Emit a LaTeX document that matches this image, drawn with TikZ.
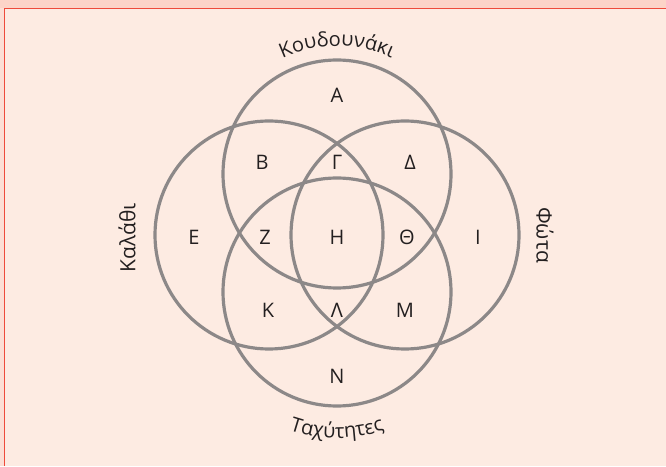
\documentclass[tikz,border=0pt]{standalone}
\usepackage{fontspec}
\setmainfont{Open Sans}
\usetikzlibrary{decorations.text}
\definecolor{vennpaper}{HTML}{FDEBE2}
\definecolor{vennband}{HTML}{FCD4C8}
\definecolor{vennred}{HTML}{EE4B3B}
\definecolor{venngray}{HTML}{8C8888}
\definecolor{vennink}{HTML}{231F20}

\begin{document}
\begin{tikzpicture}[x=1pt, y=1pt,
 ring/.style={draw=venngray, line width=3.2pt},
 zone/.style={font=\fontsize{20}{22}\selectfont, text=vennink, inner sep=0pt},
 setname/.style={font=\fontsize{21}{23}\selectfont, text=vennink, inner sep=0pt}]
 \useasboundingbox (0,0) rectangle (666,466);
 \fill[vennpaper] (0,0) rectangle (666,466);
 \fill[vennband] (0,458) rectangle (666,466);
 \fill[vennband!50!vennpaper] (0,0) rectangle (4,458);
 \draw[vennred, line width=1.5pt] (4.7,0) -- (4.7,457.6) -- (666,457.6);
 % the four sets
 \draw[ring] (337,292) circle[radius=114pt];
 \draw[ring] (269,231) circle[radius=114pt];
 \draw[ring] (405,231) circle[radius=114pt];
 \draw[ring] (337,174) circle[radius=114pt];
 % regions
 \node[zone] (alpha) at (337,371){Α};
 \node[zone] (beta) at (262,304){Β};
 \node[zone] (gamma) at (337,304){Γ};
 \node[zone] (delta) at (410,304){Δ};
 \node[zone] (epsilon) at (194,229){Ε};
 \node[zone] (zeta) at (265,229){Ζ};
 \node[zone] (eta) at (337,229){Η};
 \node[zone] (theta) at (407,229){Θ};
 \node[zone] (iota) at (478,229){Ι};
 \node[zone] (kappa) at (268,156){Κ};
 \node[zone] (lambda) at (337,156){Λ};
 \node[zone] (mu) at (405,156){Μ};
 \node[zone] (nu) at (337,90){Ν};
 % set names
 \path[decorate, decoration={text along path, text align=center,
   text={|\fontsize{20}{22}\selectfont\color{vennink}|Κουδουνάκι}}]
   (337,292) ++(120:128) arc[start angle=120, end angle=60, radius=128pt];
 \path[decorate, decoration={text along path, text align=center,
   text={|\fontsize{20}{22}\selectfont\color{vennink}|Ταχύτητες}}]
   (337,174) ++(240:146) arc[start angle=240, end angle=300, radius=146pt];
 \node[setname, rotate=90] (basket) at (127,228){Καλάθι};
 \node[setname, rotate=-90] (lights) at (545,231){Φώτα};
\end{tikzpicture}
\end{document}
